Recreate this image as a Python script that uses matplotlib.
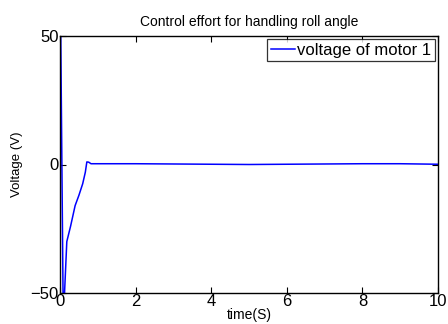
import matplotlib
matplotlib.use("Agg")
import matplotlib.pyplot as plt
import numpy as np

plt.rcParams['font.family'] = ['Liberation Sans', 'DejaVu Sans']

time_s = [0.0, 0.02, 0.08, 0.12, 0.18, 0.28, 0.4, 0.5, 0.6, 0.67, 0.71, 0.76, 0.82, 1.0, 2.0, 3.0, 4.0, 5.0, 6.0, 7.0, 8.0, 9.0, 10.0]
voltage = [50.0, 50.0, -50.0, -50.0, -30.0, -24.0, -16.0, -12.0, -7.5, -3.0, 1.0, 0.9, 0.3, 0.3, 0.3, 0.2, 0.1, 0.0, 0.1, 0.2, 0.3, 0.3, 0.1]

x_ticks = [0, 2, 4, 6, 8, 10]
y_ticks = [-50, 0, 50]

fig = plt.figure(figsize=(4.48, 3.24), dpi=100)
ax = fig.add_axes([60/448, 1 - 293/324, (438 - 60)/448, (293 - 36)/324])
ax.plot(time_s, voltage, color='#0000ff', lw=1.1, label='voltage of motor 1')
ax.set_xlim(0, 10)
ax.set_ylim(-50, 50)
ax.set_xticks(x_ticks)
ax.set_yticks(y_ticks)
ax.tick_params(direction='in', labelsize=12, length=4, top=True, right=True, pad=1)
for s in ax.spines.values():
    s.set_linewidth(1.0)
ax.set_title('Control effort for handling roll angle', fontsize=10, pad=7)
ax.set_xlabel('time(S)', fontsize=10, labelpad=-1)
ax.set_ylabel('Voltage (V)', fontsize=9.5, labelpad=5)
leg = ax.legend(loc='upper right', fontsize=12, frameon=True, fancybox=False,
                borderaxespad=0.2, borderpad=0.2, handlelength=1.45, handletextpad=0.15)
leg.get_frame().set_edgecolor('black')
leg.get_frame().set_linewidth(0.9)
fig.savefig('out.png', dpi=100)
